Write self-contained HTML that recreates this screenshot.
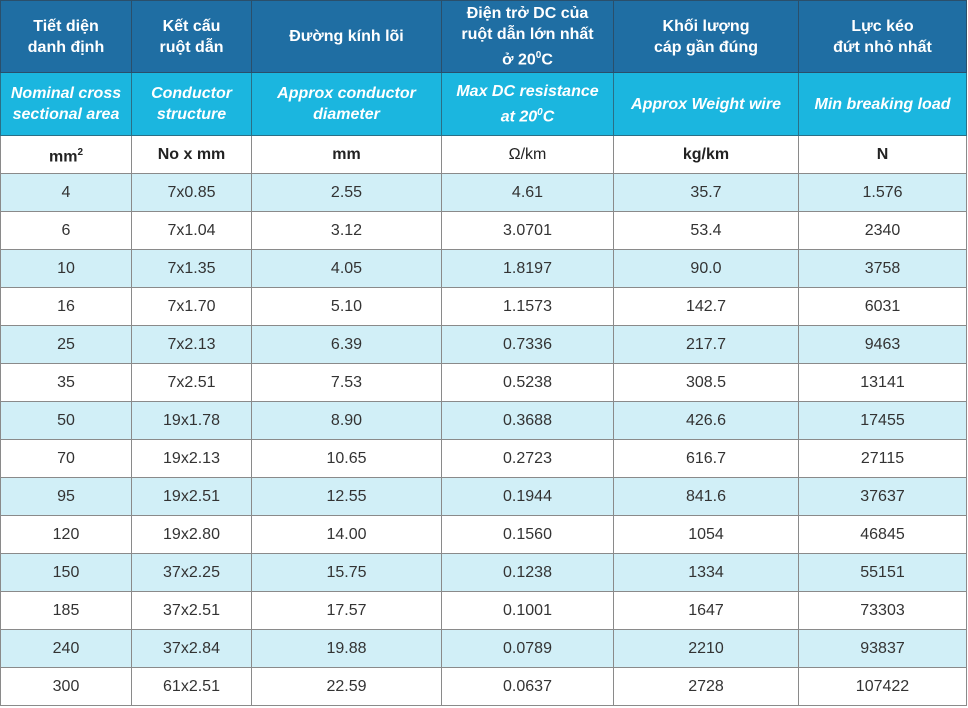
<!DOCTYPE html>
<html><head><meta charset="utf-8"><style>
html,body{margin:0;padding:0;background:#fff;width:968px;height:708px;overflow:hidden}
table{position:absolute;left:0;top:0;border-collapse:collapse;table-layout:fixed;font-family:"Liberation Sans",sans-serif;font-size:16px;color:#333}
td,th{border:1px solid #8a8a8a;text-align:center;padding:0;line-height:21px}
tr.h1 th{background:#1f6ea3;color:#fff;font-weight:bold;height:71px;font-size:16px;border-color:#2a4f6b}
tr.h2 th{background:#1bb6df;color:#fff;font-weight:bold;font-style:italic;height:62px;font-size:16px;border-color:#2a6f86}
tr.u td{height:37px;font-weight:bold;color:#222}
tr.d td{height:37px}
tr.d:nth-child(even) td{background:#d1eff7}
</style></head><body>
<table>
<colgroup><col style="width:131px"><col style="width:120px"><col style="width:190px"><col style="width:172px"><col style="width:185px"><col style="width:168px"></colgroup>
<tr class="h1">
<th>Tiết diện<br>danh định</th>
<th>Kết cấu<br>ruột dẫn</th>
<th>Đường kính lõi</th>
<th>Điện trở DC của<br>ruột dẫn lớn nhất<br>ở 20<sup style="font-size:10px">0</sup>C</th>
<th>Khối lượng<br>cáp gần đúng</th>
<th>Lực kéo<br>đứt nhỏ nhất</th>
</tr>
<tr class="h2">
<th>Nominal cross<br>sectional area</th>
<th>Conductor<br>structure</th>
<th>Approx conductor<br>diameter</th>
<th>Max DC resistance<br>at 20<sup style="font-size:10px">0</sup>C</th>
<th>Approx Weight wire</th>
<th>Min breaking load</th>
</tr>
<tr class="u">
<td>mm<sup style="font-size:10px">2</sup></td>
<td>No x mm</td>
<td>mm</td>
<td style="font-weight:normal">Ω/km</td>
<td>kg/km</td>
<td>N</td>
</tr>
<tbody id="body" style="display:contents"></tbody>
</table>
<script>
const sizes=["4","6","10","16","25","35","50","70","95","120","150","185","240","300"];
const structures=["7x0.85","7x1.04","7x1.35","7x1.70","7x2.13","7x2.51","19x1.78","19x2.13","19x2.51","19x2.80","37x2.25","37x2.51","37x2.84","61x2.51"];
const diameters=["2.55","3.12","4.05","5.10","6.39","7.53","8.90","10.65","12.55","14.00","15.75","17.57","19.88","22.59"];
const resistances=["4.61","3.0701","1.8197","1.1573","0.7336","0.5238","0.3688","0.2723","0.1944","0.1560","0.1238","0.1001","0.0789","0.0637"];
const weights=["35.7","53.4","90.0","142.7","217.7","308.5","426.6","616.7","841.6","1054","1334","1647","2210","2728"];
const loads=["1.576","2340","3758","6031","9463","13141","17455","27115","37637","46845","55151","73303","93837","107422"];
const table=document.querySelector('table');
const names=["size","structure","diameter","resistance","weight","breaking-load"];
for(let i=0;i<sizes.length;i++){
  const tr=document.createElement('tr');
  tr.className='d';
  
  
  if(i%2===0){tr.style.background='#d1eff7';}
  const vals=[sizes[i],structures[i],diameters[i],resistances[i],weights[i],loads[i]];
  for(let j=0;j<6;j++){
    const td=document.createElement('td');
    td.textContent=vals[j];
    
    
    if(i%2===0){td.style.background='#d1eff7';}
    tr.appendChild(td);
  }
  table.appendChild(tr);
}
</script>
</body></html>
